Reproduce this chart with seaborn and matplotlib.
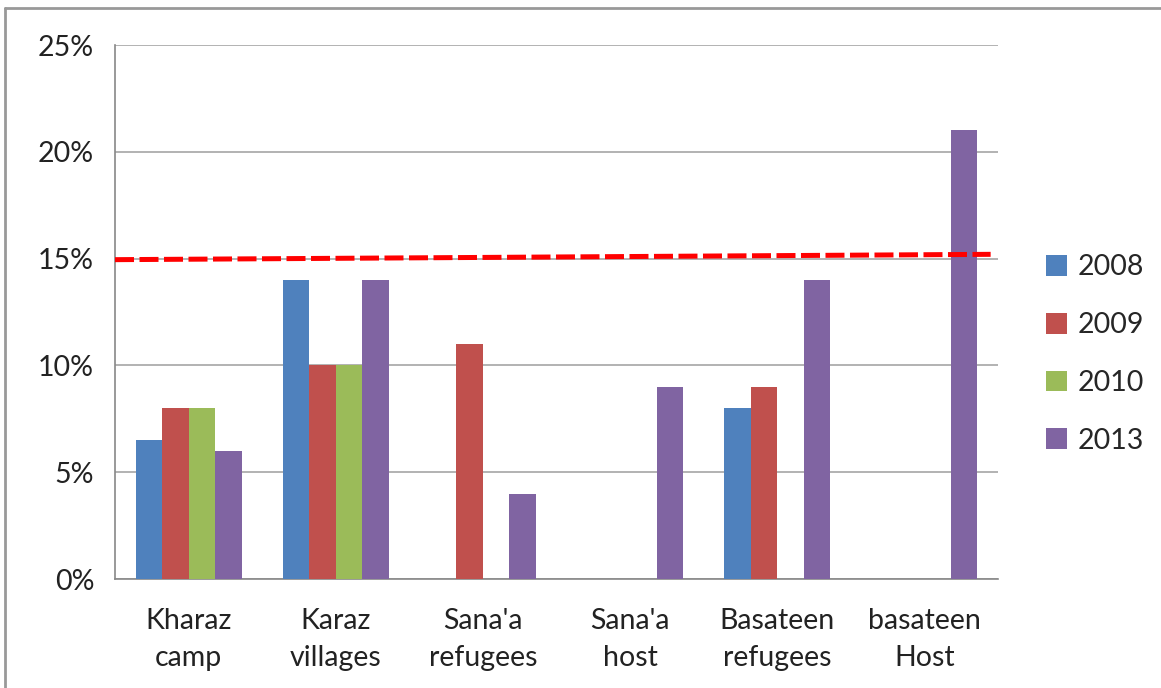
import matplotlib
matplotlib.use("Agg")
import matplotlib.pyplot as plt
import seaborn as sns
import pandas as pd
import numpy as np
from matplotlib.patches import Patch

categories = ["Kharaz\ncamp", "Karaz\nvillages", "Sana'a\nrefugees", "Sana'a\nhost", "Basateen\nrefugees", "basateen\nHost"]
years = ["2008", "2009", "2010", "2013"]
v2008 = [6.5, 14, np.nan, np.nan, 8, np.nan]
v2009 = [8, 10, 11, np.nan, 9, np.nan]
v2010 = [8, 10, np.nan, np.nan, np.nan, np.nan]
v2013 = [6, 14, 4, 9, 14, 21]
threshold = [14.95, 15.2]
yticks = [0, 5, 10, 15, 20, 25]
colors = ["#4F81BD", "#C0504D", "#9BBB59", "#8064A2"]

rows = []
for y, vals in zip(years, [v2008, v2009, v2010, v2013]):
    for c, v in zip(categories, vals):
        rows.append({"cat": c, "year": y, "val": v})
df = pd.DataFrame(rows)

sns.set_style("white")
plt.rcParams["font.family"] = ["Lato", "DejaVu Sans"]

fig = plt.figure(figsize=(11.61, 6.88), dpi=100)
ax = fig.add_axes([115/1161, 1 - 579/688, (998-115)/1161, (579-45)/688])

sns.barplot(data=df, x="cat", y="val", hue="year", order=categories, hue_order=years,
            palette=colors, width=0.72, ax=ax, saturation=1, legend=False,
            edgecolor="none", linewidth=0, zorder=3)

fs = 20.5
ax.set_ylim(0, 25)
ax.set_xlim(-0.5, len(categories) - 0.5)
ax.set_yticks(yticks)
ax.set_yticklabels([f"{t}%" for t in yticks], fontsize=fs, color="#222222")
ax.yaxis.grid(True, color="#A6A6A6", linewidth=1.2, zorder=0)
ax.set_axisbelow(True)
ax.set_xlabel("")
ax.set_ylabel("")
ax.set_xticks(range(len(categories)))
ax.set_xticklabels(categories, fontsize=fs, color="#222222", linespacing=1.5)
ax.tick_params(axis="x", length=0, pad=21)
ax.set_xticks(np.arange(-0.5, len(categories)), minor=True)
ax.tick_params(axis="x", which="minor", length=8, color="#888888", width=1.2)
ax.tick_params(axis="y", length=7, color="#888888", width=1.2, pad=8)
for s in ["top", "right"]:
    ax.spines[s].set_visible(False)
for s in ["left", "bottom"]:
    ax.spines[s].set_color("#888888")
    ax.spines[s].set_linewidth(1.2)

ax.plot([-0.5, 5.45], threshold, color="#FF0000", linestyle=(0, (3.8, 1.1)),
        linewidth=3.6, zorder=5, solid_capstyle="butt")

handles = [Patch(facecolor=c, edgecolor="none") for c in colors]
fig.legend(handles, years, loc="center left", bbox_to_anchor=(1046/1161, 1 - 354/688),
           frameon=False, fontsize=fs, handlelength=0.75, handleheight=0.75,
           handletextpad=0.35, labelspacing=1.12, borderpad=0, borderaxespad=0)

fig.add_artist(plt.Line2D([5/1161, 5/1161], [0, 1 - 8/688], color="#999999", linewidth=2,
                          transform=fig.transFigure))
fig.add_artist(plt.Line2D([5/1161, 1], [1 - 8/688, 1 - 8/688], color="#999999", linewidth=2,
                          transform=fig.transFigure))

fig.savefig("out.png", dpi=100)
